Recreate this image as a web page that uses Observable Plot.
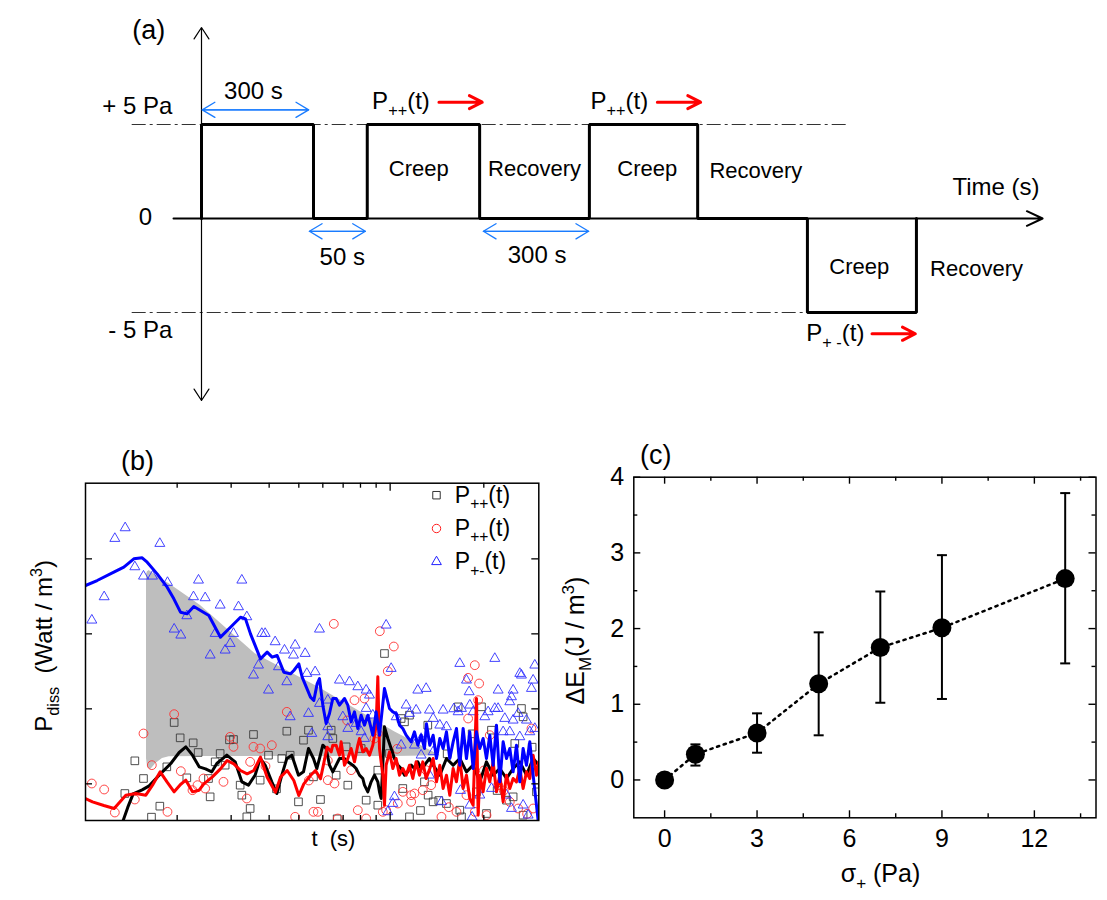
<!DOCTYPE html>
<html><head><meta charset="utf-8">
<script src="https://cdn.jsdelivr.net/npm/d3@7"></script>
<script src="https://cdn.jsdelivr.net/npm/@observablehq/plot@0.6"></script>
<style>
html,body{margin:0;padding:0;background:#fff;overflow:hidden}
#fig{position:relative;width:1107px;height:900px;background:#fff}
#fig svg{position:absolute;overflow:visible;max-width:none;background:transparent}
</style></head><body><div id="fig"></div>
<script>
const FONT = '"Liberation Sans", Arial, Helvetica, sans-serif';

// ---------- (a) schematic protocol: schematic time (s, as drawn) and stress (Pa) ----------
const stepTime   = [0, 0, 300, 444, 745, 1039, 1329, 1623, 1915];
const stepStress = [0, 5, 0, 5, 0, 5, 0, -5, 0];
const refStress  = [5, -5];
const refFrom    = [-187, -187];
const refTo      = [1735, 1623];
const spanFrom   = [2, 289, 755];
const spanTo     = [287, 439, 1037];
const spanStress = [5.78, -0.68, -0.68];
const spanLabels = ["300 s", "50 s", "300 s"];
const spanLabelT = [139, 377, 899];
const spanLabelS = [6.76, -2.06, -1.97];
const powFrom    = [636, 1221, 1796];
const powTo      = [752, 1337, 1912];
const powStress  = [6.19, 6.19, -6.13];
const powLabels  = ["P_{++}(t)", "P_{++}(t)", "P_{+ -}(t)"];
const powLabelT  = [457, 1042, 1620];
const powLabelS  = [6.22, 6.22, -6.13];
const phaseLabels = ["Creep", "Recovery", "Creep", "Recovery", "Creep", "Recovery"];
const phaseT      = [582, 892, 1194, 1485, 1762, 2076];
const phaseS      = [2.64, 2.66, 2.61, 2.52, -2.59, -2.71];
const stressLabels = ["+ 5 Pa", "0", "- 5 Pa"];
const stressLabelT = [-78, -132, -78];
const stressLabelS = [5.96, 0.05, -5.96];
const timeAxis   = {from: -75, to: 2253};
const stressAxis = {top: 10.16, bottom: -9.68};

// ---------- (b) dissipated power, arbitrary (log-time, power) units ----------
const bTicksMinor = [290, 452, 566, 655, 727, 788, 840, 887, 1210];
const bTicksMajor = [929];
const bTicksY = [110, 335, 560, 785];
const grayT  = [198, 201, 206, 211, 226, 246, 266, 360, 524, 714, 942, 1080];
const grayHi = [738, 746, 750, 746, 736, 722, 710, 645, 500, 400, 266, 194];
const grayLo = [186, 161, 155, 153, 171, 186, 191, 192, 192, 192, 192, 194];
const ppSquares = [[133,81],[163,179],[189,126],[213,10],[238,43],[259,161],[281,294],[299,248],[319,128],[338,233],[353,204],[384,126],[389,71],[404,176],[419,201],[434,166],[447,242],[459,243],[479,106],[484,76],[499,11],[509,36],[519,258],[539,121],[564,196],[588,95],[604,186],[619,268],[629,196],[654,56],[669,241],[684,271],[699,131],[720,63],[752,271],[757,246],[767,136],[770,5],[797,221],[802,106],[842,216],[857,61],[892,151],[892,46],[912,501],[927,201],[962,306],[967,96],[972,296],[987,316],[987,11],[1020,30],[1032,116],[1042,286],[1043,76],[1058,56],[1075,60],[1098,51],[1100,200],[1133,341],[1138,31],[1143,11],[1175,260],[1188,86],[1203,341],[1218,21],[1233,271],[1250,90],[1278,61],[1298,71],[1303,231],[1323,336],[1328,311],[1328,16],[1355,220],[1368,86]];
const ppCircles = [[34,111],[71,93],[103,24],[163,63],[189,261],[214,166],[261,26],[281,319],[301,148],[336,91],[351,106],[369,126],[374,96],[429,116],[449,251],[459,221],[499,66],[509,176],[519,221],[539,216],[555,163],[574,226],[619,326],[644,11],[685,120],[699,26],[712,26],[742,121],[742,180],[760,590],[762,111],[772,6],[800,300],[812,151],[822,361],[832,31],[852,366],[857,6],[882,246],[892,261],[898,568],[907,26],[917,31],[922,448],[940,522],[950,215],[952,51],[967,86],[992,76],[992,56],[1002,81],[1027,91],[1037,151],[1052,106],[1083,11],[1105,40],[1128,26],[1158,76],[1163,428],[1163,306],[1183,466],[1183,26],[1193,361],[1196,411],[1210,150],[1218,16],[1228,256],[1253,106],[1270,90],[1288,56],[1313,36],[1340,20],[1353,276],[1358,36]];
const pmTriangles = [[34,601],[71,671],[103,846],[134,878],[163,761],[189,733],[216,733],[238,831],[261,714],[281,574],[301,556],[319,614],[339,671],[354,721],[374,668],[389,496],[404,561],[419,646],[434,511],[449,531],[459,561],[474,641],[484,721],[499,611],[519,436],[534,466],[544,561],[554,561],[564,391],[584,536],[594,461],[612,511],[619,416],[629,311],[639,496],[644,526],[674,501],[679,441],[684,321],[694,261],[704,446],[717,574],[717,351],[742,361],[742,281],[742,251],[777,421],[787,311],[802,276],[807,416],[827,291],[832,401],[842,266],[852,246],[857,391],[857,336],[867,376],[877,316],[917,586],[932,456],[947,311],[937,51],[922,26],[942,71],[962,226],[977,346],[987,321],[1002,226],[1007,331],[1012,391],[1022,246],[1022,196],[1037,396],[1047,331],[1047,136],[1058,306],[1058,206],[1078,286],[1083,56],[1088,331],[1098,281],[1120,335],[1133,326],[1138,471],[1140,90],[1143,336],[1158,421],[1166,386],[1168,346],[1168,46],[1175,10],[1178,326],[1198,76],[1213,311],[1223,326],[1233,96],[1243,486],[1243,336],[1253,391],[1253,336],[1268,266],[1273,306],[1278,76],[1288,356],[1288,266],[1293,371],[1293,36],[1298,391],[1298,301],[1313,321],[1318,441],[1318,251],[1323,436],[1328,46],[1338,301],[1343,16],[1348,266],[1353,396],[1358,421],[1363,466],[1363,276]];
const ppBlackLine = [[128,0],[142,40],[158,80],[185,92],[206,104],[236,136],[271,171],[296,204],[316,221],[336,196],[356,161],[375,155],[394,146],[409,171],[439,196],[464,176],[484,116],[504,106],[524,136],[539,186],[554,166],[574,116],[589,81],[604,136],[619,186],[634,196],[654,136],[669,146],[684,216],[699,186],[709,156],[717,186],[727,226],[737,216],[747,166],[757,146],[767,166],[777,186],[792,186],[802,176],[817,166],[827,156],[837,136],[847,126],[852,106],[862,86],[872,116],[882,136],[892,116],[897,86],[902,66],[907,166],[912,281],[922,246],[932,216],[942,186],[952,166],[962,156],[972,136],[982,146],[992,166],[1002,156],[1012,176],[1022,156],[1032,166],[1047,186],[1058,166],[1078,136],[1098,186],[1118,166],[1138,186],[1158,146],[1178,166],[1198,116],[1218,176],[1238,136],[1258,156],[1278,126],[1298,156],[1318,176],[1338,136],[1358,186],[1375,166]];
const ppRedLine = [[15,66],[36,56],[70,45],[101,36],[136,76],[166,81],[196,76],[216,106],[239,146],[260,115],[281,86],[300,108],[316,121],[336,86],[356,91],[370,110],[395,130],[420,155],[440,180],[460,170],[480,150],[500,140],[520,150],[540,190],[560,130],[585,85],[600,130],[620,150],[640,120],[655,75],[670,110],[690,135],[705,150],[720,125],[740,220],[752,206],[757,226],[767,226],[777,196],[782,236],[792,166],[802,186],[812,216],[822,176],[832,226],[837,246],[847,206],[857,216],[867,196],[877,226],[887,286],[892,431],[897,216],[907,136],[912,46],[917,166],[927,206],[937,156],[947,186],[957,136],[967,156],[977,136],[987,166],[997,126],[1007,176],[1017,136],[1027,176],[1037,126],[1048,156],[1058,186],[1068,116],[1078,166],[1088,96],[1098,136],[1108,76],[1118,156],[1128,116],[1138,186],[1148,96],[1158,136],[1168,66],[1178,46],[1188,366],[1193,16],[1198,136],[1208,86],[1218,156],[1228,116],[1238,176],[1248,86],[1258,136],[1268,56],[1278,136],[1288,96],[1298,126],[1308,116],[1318,156],[1328,96],[1338,146],[1348,126],[1358,196],[1368,136],[1375,176]];
const pmBlueLine = [[15,705],[50,720],[100,745],[130,760],[160,785],[185,788],[200,775],[230,740],[260,700],[280,665],[300,625],[320,620],[340,642],[360,630],[385,615],[420,550],[450,580],[480,610],[495,605],[510,560],[540,485],[560,505],[575,490],[590,495],[610,445],[630,440],[640,450],[655,470],[665,430],[690,370],[700,360],[710,410],[717,426],[727,346],[737,291],[747,321],[757,366],[767,366],[777,346],[792,366],[802,346],[812,296],[822,326],[832,276],[842,316],[852,286],[862,316],[877,256],[887,326],[897,256],[912,396],[927,336],[937,326],[947,321],[957,286],[967,276],[977,256],[992,236],[1002,266],[1012,226],[1022,256],[1032,216],[1038,290],[1048,226],[1058,256],[1068,186],[1078,246],[1088,216],[1098,266],[1108,186],[1118,236],[1128,276],[1138,166],[1148,276],[1158,186],[1168,266],[1178,156],[1188,266],[1198,216],[1208,246],[1218,186],[1228,256],[1238,166],[1248,286],[1258,116],[1268,236],[1278,186],[1288,216],[1298,146],[1308,226],[1318,116],[1328,216],[1338,166],[1348,236],[1358,136],[1368,46],[1373,0]];
const legendLabels  = ["P_{++}(t)", "P_{++}(t)", "P_{+-}(t)"];
const legendSymbols = ["square", "circle", "triangle"];
const legendColors  = ["#333333", "#ff2020", "#2020ff"];

// ---------- (c) stored energy vs stress ----------
const sigmaPlus = [0, 1, 3, 5, 7, 9, 13];
const deltaEM   = [0, 0.34, 0.62, 1.27, 1.75, 2.01, 2.66];
const deltaEMlo = [null, 0.19, 0.36, 0.59, 1.02, 1.07, 1.54];
const deltaEMhi = [null, 0.47, 0.88, 1.95, 2.49, 2.97, 3.79];
const cTicksX = [0, 3, 6, 9, 12];
const cMinorX = [1.5, 4.5, 7.5, 10.5, 13.5];
const cTicksY = [0, 1, 2, 3, 4];
const cMinorY = [0.5, 1.5, 2.5, 3.5];

// ---------- helpers ----------
const zip3 = (a, b, c) => a.map((v, i) => ({a: v, b: b[i], c: c[i]}));
const baseStyle = {fontFamily: FONT, fontSize: "24px", background: "transparent", overflow: "visible", color: "black"};

function richText(root) {
  root.querySelectorAll("text").forEach(t => {
    const s = t.textContent;
    if (!/[_^]\{/.test(s)) return;
    const fs = parseFloat(getComputedStyle(t).fontSize) || 20;
    const parts = s.split(/([_^]\{[^}]*\})/).filter(p => p);
    while (t.firstChild) t.removeChild(t.firstChild);
    let shift = 0;
    for (const p of parts) {
      const ts = document.createElementNS("http://www.w3.org/2000/svg", "tspan");
      let target = 0;
      if (p.startsWith("_{")) { target = 0.28 * fs; ts.setAttribute("font-size", (0.68 * fs).toFixed(1)); ts.textContent = p.slice(2, -1); }
      else if (p.startsWith("^{")) { target = -0.42 * fs; ts.setAttribute("font-size", (0.68 * fs).toFixed(1)); ts.textContent = p.slice(2, -1); }
      else ts.textContent = p;
      if (target !== shift) { ts.setAttribute("dy", (target - shift).toFixed(2)); shift = target; }
      t.appendChild(ts);
    }
  });
}

// inward ticks on all four sides, drawn as frame-spanning rules shortened by insets
function inwardTicks(xTicks, yTicks, fw, fh, sw) {
  const m = [];
  for (const [vals, len] of xTicks) {
    m.push(Plot.ruleX(vals, {x: d => d, insetTop: fh - len, stroke: "black", strokeWidth: sw}));
    m.push(Plot.ruleX(vals, {x: d => d, insetBottom: fh - len, stroke: "black", strokeWidth: sw}));
  }
  for (const [vals, len] of yTicks) {
    m.push(Plot.ruleY(vals, {y: d => d, insetRight: fw - len, stroke: "black", strokeWidth: sw}));
    m.push(Plot.ruleY(vals, {y: d => d, insetLeft: fw - len, stroke: "black", strokeWidth: sw}));
  }
  return m;
}

// ---------- panel (a) ----------
const K = 112 / 300;        // drawn pixels per schematic second
const T0 = 201;
const plotA = Plot.plot({
  width: 1107, height: 420,
  x: {domain: [-200, 2300], range: [T0 - 200 * K, T0 + 2300 * K], axis: null},
  y: {domain: [-5, 5], range: [312, 124], axis: null},
  style: baseStyle,
  marks: [
    Plot.link(zip3(refStress, refFrom, refTo), {x1: "b", x2: "c", y1: "a", y2: "a", stroke: "#333", strokeWidth: 1.2, strokeDasharray: "14,4,3,4"}),
    Plot.arrow([timeAxis], {x1: "from", x2: "to", y1: () => 0, y2: () => 0, stroke: "black", strokeWidth: 2, headAngle: 50, headLength: 13}),
    Plot.arrow([stressAxis], {x1: () => 0, x2: () => 0, y1: () => 0, y2: "top", stroke: "black", strokeWidth: 1.2, headAngle: 66, headLength: 17}),
    Plot.arrow([stressAxis], {x1: () => 0, x2: () => 0, y1: () => 0, y2: "bottom", stroke: "black", strokeWidth: 1.2, headAngle: 66, headLength: 17}),
    Plot.line(stepTime.map((t, i) => ({t, s: stepStress[i]})), {x: "t", y: "s", curve: "step-after", stroke: "black", strokeWidth: 3, strokeLinejoin: "miter"}),
    Plot.arrow(zip3(spanStress, spanFrom, spanTo), {x1: "b", x2: "c", y1: "a", y2: "a", stroke: "#1a7cff", strokeWidth: 1.3, headAngle: 62, headLength: 17}),
    Plot.arrow(zip3(spanStress, spanFrom, spanTo), {x1: "c", x2: "b", y1: "a", y2: "a", stroke: "#1a7cff", strokeWidth: 1.3, headAngle: 62, headLength: 17}),
    Plot.arrow(zip3(powStress, powFrom, powTo), {x1: "b", x2: "c", y1: "a", y2: "a", stroke: "#ff0000", strokeWidth: 3, headAngle: 54, headLength: 8.5}),
    Plot.text(zip3(spanLabels, spanLabelT, spanLabelS), {text: "a", x: "b", y: "c", fontSize: 24}),
    Plot.text(zip3(powLabels, powLabelT, powLabelS), {text: "a", x: "b", y: "c", fontSize: 24, textAnchor: "start"}),
    Plot.text(zip3(phaseLabels, phaseT, phaseS), {text: "a", x: "b", y: "c", fontSize: 22}),
    Plot.text(zip3(stressLabels, stressLabelT, stressLabelS), {text: "a", x: "b", y: "c", fontSize: 24, textAnchor: "end"}),
    Plot.text([{l: "Time (s)", t: 2128, s: 1.66}], {text: "l", x: "t", y: "s", fontSize: 24}),
    Plot.text([{l: "(a)", t: -141, s: 10.0}], {text: "l", x: "t", y: "s", fontSize: 27})
  ]
});

// ---------- panel (b) ----------
const xy = {x: d => d[0], y: d => d[1]};
const B = {w: 555, h: 470, ml: 85, mr: 16.7, mt: 52.7, mb: 80};
const bFW = B.w - B.ml - B.mr, bFH = B.h - B.mt - B.mb;
const bLegend = [];
legendLabels.forEach((lab, i) => {
  bLegend.push(Plot.dot([lab], {frameAnchor: "top-right", dx: -102.3, dy: 12 + 33.3 * i, symbol: legendSymbols[i], r: legendSymbols[i] === "triangle" ? 3.6 : 4.2, stroke: legendColors[i], strokeWidth: 1, fill: "none"}));
  bLegend.push(Plot.text([lab], {frameAnchor: "top-right", dx: -84, dy: 12 + 33.3 * i, text: d => d, textAnchor: "start", lineAnchor: "middle", fontSize: 23}));
});
const plotB = Plot.plot({
  width: B.w, height: B.h,
  marginLeft: B.ml, marginRight: B.mr, marginTop: B.mt, marginBottom: B.mb,
  x: {domain: [15, 1375], axis: null},
  y: {domain: [0, 1012], axis: null},
  style: baseStyle,
  marks: [
    Plot.areaY(grayT.map((t, i) => ({t, lo: grayLo[i], hi: grayHi[i]})), {x: "t", y1: "lo", y2: "hi", fill: "#bebebe"}),
    Plot.dot(ppSquares, {...xy, symbol: "square", r: 4.3, stroke: "#3a3a3a", strokeWidth: 0.9, fill: "none", clip: true}),
    Plot.dot(ppCircles, {...xy, symbol: "circle", r: 4.4, stroke: "#ff3030", strokeWidth: 0.9, fill: "none", clip: true}),
    Plot.dot(pmTriangles, {...xy, symbol: "triangle", r: 3.7, stroke: "#3030ff", strokeWidth: 0.9, fill: "none", clip: true}),
    Plot.line(ppBlackLine, {...xy, stroke: "black", strokeWidth: 3, clip: true}),
    Plot.line(ppRedLine, {...xy, stroke: "#ff0000", strokeWidth: 3, clip: true}),
    Plot.line(pmBlueLine, {...xy, stroke: "#0000ff", strokeWidth: 3, clip: true}),
    ...inwardTicks([[bTicksMinor, 5], [bTicksMajor, 8]], [[bTicksY, 7]], bFW, bFH, 1.3),
    Plot.frame({stroke: "black", strokeWidth: 1.5}),
    ...bLegend,
    Plot.text(["P_{diss}  (Watt / m^{3})"], {frameAnchor: "left", rotate: -90, dx: -41, dy: -6, text: d => d, textAnchor: "middle", lineAnchor: "middle", fontSize: 24}),
    Plot.text(["t  (s)"], {frameAnchor: "bottom", dx: 21.3, dy: 18, text: d => d, textAnchor: "middle", lineAnchor: "middle", fontSize: 22}),
    Plot.text(["(b)"], {frameAnchor: "top-left", dx: 52, dy: -21.7, text: d => d, textAnchor: "middle", lineAnchor: "middle", fontSize: 27})
  ]
});

// ---------- panel (c) ----------
const capSymbol = {draw(ctx, size) { const r = Math.sqrt(size / Math.PI); ctx.moveTo(-r, 0); ctx.lineTo(r, 0); }};
const cData = sigmaPlus.map((s, i) => ({s, e: deltaEM[i], lo: deltaEMlo[i], hi: deltaEMhi[i]}));
const cErr = cData.filter(d => d.lo != null);
const C = {w: 552, h: 470, ml: 78.3, mr: 11.5, mt: 46.7, mb: 82.7};
const cFW = C.w - C.ml - C.mr, cFH = C.h - C.mt - C.mb;
const plotC = Plot.plot({
  width: C.w, height: C.h,
  marginLeft: C.ml, marginRight: C.mr, marginTop: C.mt, marginBottom: C.mb,
  x: {domain: [-1, 14], axis: null},
  y: {domain: [-0.5, 4], axis: null},
  style: baseStyle,
  marks: [
    Plot.line(cData, {x: "s", y: "e", stroke: "black", strokeWidth: 2.5, strokeDasharray: "2.3,4.7"}),
    Plot.ruleX(cErr, {x: "s", y1: "lo", y2: "hi", stroke: "black", strokeWidth: 2}),
    Plot.dot(cErr, {x: "s", y: "lo", symbol: capSymbol, r: 5, stroke: "black", strokeWidth: 2, fill: "none"}),
    Plot.dot(cErr, {x: "s", y: "hi", symbol: capSymbol, r: 5, stroke: "black", strokeWidth: 2, fill: "none"}),
    Plot.dot(cData, {x: "s", y: "e", r: 9.5, fill: "black", stroke: "none"}),
    ...inwardTicks([[cTicksX, 7], [cMinorX, 4]], [[cTicksY, 7], [cMinorY, 4]], cFW, cFH, 1.4),
    Plot.axisX({anchor: "bottom", ticks: cTicksX, tickSize: 0, tickPadding: 11, tickFormat: d => String(d), label: null, fontSize: 25}),
    Plot.axisY({anchor: "left", ticks: cTicksY, tickSize: 0, tickPadding: 9.6, tickFormat: d => String(d), label: null, fontSize: 25}),
    Plot.frame({stroke: "black", strokeWidth: 1.5}),
    Plot.text(["ΔE_{M}(J / m^{3})"], {frameAnchor: "left", rotate: -90, dx: -57.8, dy: -7, text: d => d, textAnchor: "middle", lineAnchor: "middle", fontSize: 25}),
    Plot.text(["σ_{+} (Pa)"], {frameAnchor: "bottom", dx: 15.6, dy: 56, text: d => d, textAnchor: "middle", lineAnchor: "middle", fontSize: 25}),
    Plot.text(["(c)"], {frameAnchor: "top-left", dx: 22, dy: -21.7, text: d => d, textAnchor: "middle", lineAnchor: "middle", fontSize: 27})
  ]
});

const fig = document.getElementById("fig");
plotA.style.left = "0px"; plotA.style.top = "0px";
plotB.style.left = "0px"; plotB.style.top = "430px";
plotC.style.left = "555px"; plotC.style.top = "430px";
fig.append(plotA, plotB, plotC);
[plotA, plotB, plotC].forEach(richText);
</script></body></html>
